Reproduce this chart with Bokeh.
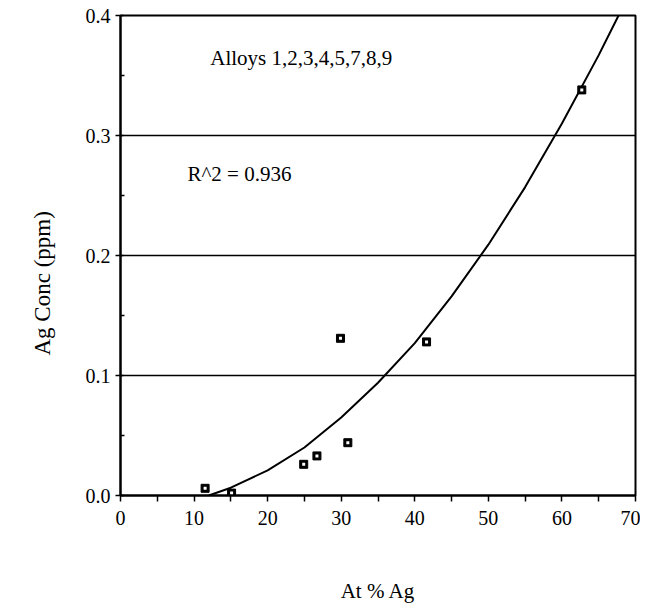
from bokeh.plotting import figure
from bokeh.models import FixedTicker, Range1d, Label, Title
from bokeh.embed import file_html
from bokeh.resources import INLINE

# Measured data points (At % Ag vs Ag Conc ppm)
at_pct = [11.5, 15.1, 24.9, 26.7, 30.9, 29.9, 41.6, 62.7]
ag_conc = [0.006, 0.002, 0.026, 0.033, 0.044, 0.131, 0.128, 0.338]

# Fitted trend curve
fit_x = [12.0, 15.0, 20.0, 25.0, 30.0, 35.0, 40.0, 45.0, 50.0, 55.0, 60.0, 65.0, 67.7]
fit_y = [0.0, 0.0065, 0.021, 0.040, 0.065, 0.094, 0.127, 0.166, 0.209, 0.257, 0.310, 0.367, 0.400]

x_ticks = [0, 10, 20, 30, 40, 50, 60, 70]
x_minor = [5, 15, 25, 35, 45, 55, 65]
y_ticks = [0.0, 0.1, 0.2, 0.3, 0.4]
y_minor = [0.05, 0.15, 0.25, 0.35]
y_grid = [0.1, 0.2, 0.3]

FONT = "Liberation Serif"

p = figure(width=640, height=605, output_backend="svg", toolbar_location=None,
           x_range=Range1d(0, 70), y_range=Range1d(0, 0.4),
           min_border_left=120, min_border_top=15, min_border_right=5, min_border_bottom=110)

p.background_fill_color = "white"
p.border_fill_color = "white"
p.outline_line_color = "black"
p.outline_line_width = 2

p.xgrid.visible = False
p.ygrid.ticker = FixedTicker(ticks=y_grid)
p.ygrid.grid_line_color = "black"
p.ygrid.grid_line_width = 1.6
p.ygrid.grid_line_alpha = 1.0

p.xaxis.ticker = FixedTicker(ticks=x_ticks, minor_ticks=x_minor)
p.yaxis.ticker = FixedTicker(ticks=y_ticks, minor_ticks=y_minor)
p.yaxis.major_label_overrides = {0.0: "0.0", 0.1: "0.1", 0.2: "0.2", 0.3: "0.3", 0.4: "0.4"}

for ax in (p.xaxis, p.yaxis):
    ax.axis_line_color = "black"
    ax.axis_line_width = 2
    ax.major_tick_line_color = "black"
    ax.minor_tick_line_color = "black"
    ax.major_tick_line_width = 1.5
    ax.minor_tick_line_width = 1.5
    ax.major_label_text_font = FONT
    ax.major_label_text_font_size = "20px"
    ax.major_label_text_color = "black"
    ax.axis_label_text_font = FONT
    ax.axis_label_text_font_size = "21px"
    ax.axis_label_text_font_style = "normal"
    ax.axis_label_text_color = "black"

p.xaxis.major_tick_out = 6
p.xaxis.major_tick_in = 0
p.xaxis.minor_tick_out = 6
p.xaxis.minor_tick_in = 0
p.xaxis.major_label_standoff = 9
p.xaxis.axis_label = "At % Ag"
p.xaxis.axis_label_standoff = 51

p.yaxis.major_tick_out = 5
p.yaxis.major_tick_in = 3
p.yaxis.minor_tick_out = 0
p.yaxis.minor_tick_in = 4
p.yaxis.major_label_standoff = 5

# y-axis title as a side title so it can be shifted along the axis
p.add_layout(Title(text="Ag Conc (ppm)", align="left", offset=140, standoff=52,
                   vertical_align="top", text_font=FONT, text_font_size="23px",
                   text_font_style="normal", text_color="black"), "left")

p.line(fit_x, fit_y, line_color="black", line_width=2)
p.scatter(at_pct, ag_conc, marker="square", size=8, line_color="black",
          line_width=1, fill_color="black")
p.scatter(at_pct, ag_conc, marker="square", size=3, line_color=None,
          fill_color="white")

p.add_layout(Label(x=12.2, y=0.365, text="Alloys 1,2,3,4,5,7,8,9", text_font=FONT,
                   text_font_size="21px", text_color="black", text_baseline="middle"))
p.add_layout(Label(x=9.1, y=0.268, text="R^2 = 0.936", text_font=FONT,
                   text_font_size="21px", text_color="black", text_baseline="middle"))

open("out.html", "w").write(file_html(p, INLINE))
